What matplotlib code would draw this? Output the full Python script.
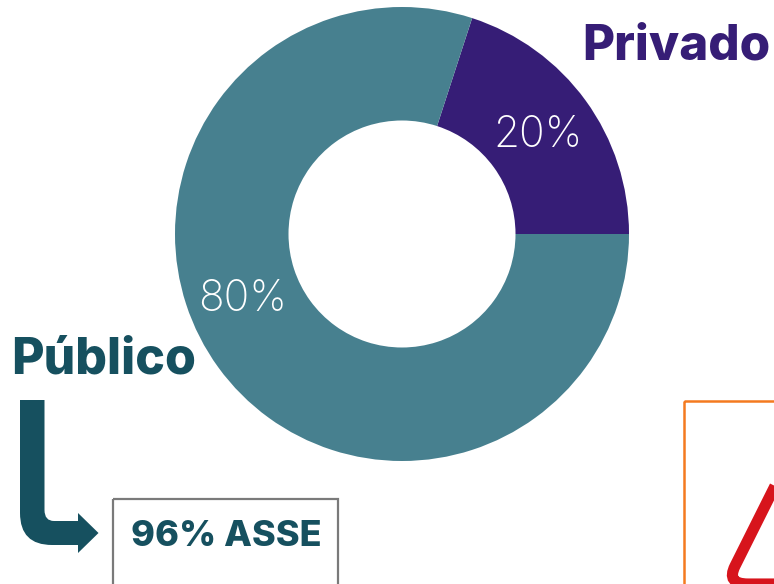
import matplotlib
matplotlib.use("Agg")
import matplotlib.pyplot as plt
from matplotlib.patches import PathPatch, Rectangle
from matplotlib.path import Path

# sectores
categorias = ["Privado", "Público"]
valores = [20, 80]
colores = ["#361d76", "#47808f"]
etiquetas = ["20%", "80%"]
nota = "96% ASSE"

W, H = 774, 584
AZUL = "#16505f"

fig = plt.figure(figsize=(W / 100, H / 100), dpi=100)

# dona
cx, cy, r = 402, 234, 227
ax = fig.add_axes([(cx - r) / W, 1 - (cy + r) / H, 2 * r / W, 2 * r / H])
ax.pie(valores, colors=colores, startangle=0, counterclock=True, radius=1,
       wedgeprops={"width": 0.5, "linewidth": 0})
ax.set_xlim(-1, 1)
ax.set_ylim(-1, 1)

# capa en pixeles para textos y formas
fuente = "Inter"
ax_txt = fig.add_axes([0, 0, 1, 1])
ax_txt.set_xlim(0, W)
ax_txt.set_ylim(H, 0)
ax_txt.axis("off")

ax_txt.text(538.5, 147, etiquetas[0], color="white", fontsize=30.5, family=fuente,
            weight="light", ha="center", va="baseline")
ax_txt.text(243, 311, etiquetas[1], color="white", fontsize=30.5, family=fuente,
            weight="light", ha="center", va="baseline")
ax_txt.text(676, 60, categorias[0], color=colores[0], fontsize=35.5, family=fuente,
            weight="heavy", ha="center", va="baseline")
ax_txt.text(104, 373, categorias[1], color=AZUL, fontsize=36, family=fuente,
            weight="heavy", ha="center", va="baseline")

# cajas
ax_txt.add_patch(Rectangle((112.5, 499), 225, 100, fc="none", ec="#7a7a7a", lw=1.6))
ax_txt.add_patch(Rectangle((683.5, 401), 120, 200, fc="none", ec="#f47a20", lw=1.8))
ax_txt.text(226, 546, nota, color=AZUL, fontsize=26, family=fuente,
            weight="heavy", ha="center", va="baseline")

# flecha
verts = [(20, 400), (44.5, 400), (44.5, 510), (44.5, 521), (54, 521), (78, 521),
         (78, 513), (98.5, 533), (78, 553), (78, 545), (52, 545), (20, 545),
         (20, 513), (20, 400)]
codes = [Path.MOVETO, Path.LINETO, Path.LINETO, Path.CURVE3, Path.CURVE3, Path.LINETO,
         Path.LINETO, Path.LINETO, Path.LINETO, Path.LINETO, Path.LINETO, Path.CURVE3,
         Path.CURVE3, Path.CLOSEPOLY]
ax_txt.add_patch(PathPatch(Path(verts, codes), fc=AZUL, ec="none"))

# triangulo de aviso, cortado por el borde
tri = Path([(785, 466), (735, 566), (726, 584), (748, 584), (790, 584)],
           [Path.MOVETO, Path.LINETO, Path.CURVE3, Path.CURVE3, Path.LINETO])
ax_txt.add_patch(PathPatch(tri, fc="none", ec="#d7141c", lw=8, capstyle="butt"))

fig.savefig("out.png", dpi=100)
